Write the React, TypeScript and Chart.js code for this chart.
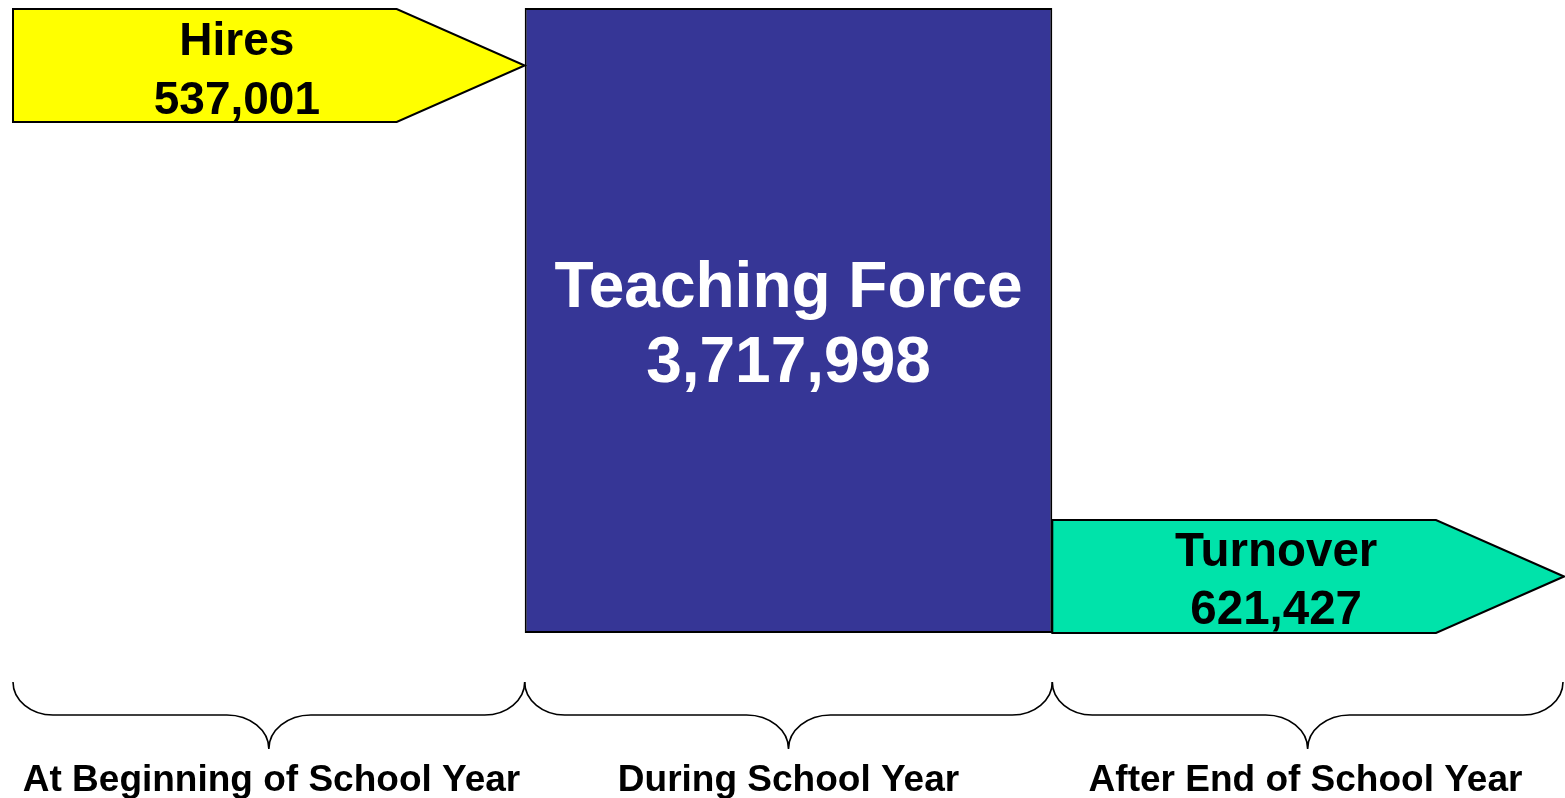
import React, { useEffect, useRef } from "react";
import { Chart, registerables } from "chart.js";

Chart.register(...registerables);

// ---------- data ----------
const categories = [
  "At Beginning of School Year",
  "During School Year",
  "After End of School Year",
];
const seriesNames = ["Hires", "Teaching Force", "Turnover"];
const hiresValue = 537001;
const teachingForceValue = 3717998;
const turnoverValue = 621427;

// ---------- styles ----------
const FONT = '"Liberation Sans", Arial, Helvetica, sans-serif';
const HIRES_COLOR = "#FFFF00";
const FORCE_COLOR = "#363696";
const TURNOVER_COLOR = "#00E3AA";
const ARROW_THICKNESS = 113;
const TIP_LENGTH = 128;
const OUTLINE = 2;

const fmt = (v: number) => v.toLocaleString("en-US");

function pentagon(ctx: CanvasRenderingContext2D, left: number, right: number, top: number, bottom: number, tip: number) {
  ctx.beginPath();
  ctx.moveTo(left, top);
  ctx.lineTo(right - tip, top);
  ctx.lineTo(right, (top + bottom) / 2);
  ctx.lineTo(right - tip, bottom);
  ctx.lineTo(left, bottom);
  ctx.closePath();
}

function twoLines(
  ctx: CanvasRenderingContext2D,
  lines: string[],
  cx: number,
  baselines: number[],
  size: number,
  color: string
) {
  ctx.save();
  ctx.font = `bold ${size}px ${FONT}`;
  ctx.fillStyle = color;
  ctx.textAlign = "center";
  ctx.textBaseline = "alphabetic";
  lines.forEach((l, i) => ctx.fillText(l, cx, baselines[i]));
  ctx.restore();
}

function brace(ctx: CanvasRenderingContext2D, x0: number, x1: number, yTop: number, yMid: number, yTip: number) {
  const cx = (x0 + x1) / 2;
  const endR = 40;
  const midR = 42;
  const k = 0.552;
  ctx.beginPath();
  ctx.moveTo(x0, yTop);
  ctx.bezierCurveTo(x0, yTop + (yMid - yTop) * k, x0 + endR * (1 - k), yMid, x0 + endR, yMid);
  ctx.lineTo(cx - midR, yMid);
  ctx.bezierCurveTo(cx - midR * (1 - k), yMid, cx, yTip - (yTip - yMid) * k, cx, yTip);
  ctx.bezierCurveTo(cx, yTip - (yTip - yMid) * k, cx + midR * (1 - k), yMid, cx + midR, yMid);
  ctx.lineTo(x1 - endR, yMid);
  ctx.bezierCurveTo(x1 - endR * (1 - k), yMid, x1, yTop + (yMid - yTop) * k, x1, yTop);
  ctx.stroke();
}

const diagramPlugin = {
  id: "flowDiagram",
  afterDatasetsDraw(chart: any) {
    const ctx: CanvasRenderingContext2D = chart.ctx;
    const h = chart.getDatasetMeta(0).data[0].getProps(["x", "y", "base", "width"], true);
    const f = chart.getDatasetMeta(1).data[1].getProps(["x", "y", "base", "width"], true);
    const t = chart.getDatasetMeta(2).data[2].getProps(["x", "y", "base", "width"], true);
    const fLeft = f.x - f.width / 2;
    const fRight = f.x + f.width / 2;
    const fTop = Math.min(f.y, f.base);
    const fBottom = Math.max(f.y, f.base);

    ctx.save();
    ctx.lineJoin = "miter";
    ctx.strokeStyle = "#000";
    ctx.lineWidth = OUTLINE;

    // Hires pointer
    const hLeft = h.x - h.width / 2;
    const hRight = Math.min(h.x + h.width / 2, fLeft);
    const hTop = Math.min(h.y, h.base) + 1;
    const hBottom = hTop + ARROW_THICKNESS;
    pentagon(ctx, hLeft, hRight, hTop, hBottom, TIP_LENGTH);
    ctx.fillStyle = HIRES_COLOR;
    ctx.fill();
    ctx.stroke();
    const hCx = (hLeft + hRight - TIP_LENGTH / 2) / 2;
    twoLines(ctx, [seriesNames[0], fmt(hiresValue)], hCx, [hTop + 46, hTop + 105], 46, "#000");

    // Turnover pointer
    const tLeft = Math.max(t.x - t.width / 2, fRight);
    const tRight = t.x + t.width / 2;
    const tBottom = Math.max(t.y, t.base);
    const tTop = tBottom - ARROW_THICKNESS;
    pentagon(ctx, tLeft, tRight, tTop, tBottom, TIP_LENGTH);
    ctx.fillStyle = TURNOVER_COLOR;
    ctx.fill();
    ctx.stroke();
    const tCx = (tLeft + tRight - TIP_LENGTH / 2) / 2;
    twoLines(ctx, [seriesNames[2], fmt(turnoverValue)], tCx, [tTop + 46, tTop + 104], 47.5, "#000");

    // Teaching force label
    const fMid = (fTop + fBottom) / 2;
    twoLines(ctx, [seriesNames[1], fmt(teachingForceValue)], f.x, [fMid - 13.5, fMid + 61.5], 64, "#FFF");

    // Braces under each period
    const base = chart.chartArea.bottom;
    ctx.lineWidth = 1.6;
    brace(ctx, hLeft, fLeft, base + 49, base + 82, base + 116);
    brace(ctx, fLeft, fRight, base + 49, base + 82, base + 116);
    brace(ctx, fRight, tRight - 1, base + 49, base + 82, base + 116);
    ctx.restore();
  },
};

export default function App() {
  const ref = useRef<HTMLCanvasElement>(null);

  useEffect(() => {
    const canvas = ref.current;
    if (!canvas) return;
    const chart = new Chart(canvas, {
      type: "bar",
      data: {
        labels: categories,
        datasets: [
          {
            label: seriesNames[0],
            data: [[teachingForceValue - hiresValue, teachingForceValue], null, null] as any,
            backgroundColor: "rgba(0,0,0,0)",
            borderWidth: 0,
            grouped: false,
            categoryPercentage: 1,
            barPercentage: 1,
          },
          {
            label: seriesNames[1],
            data: [null, teachingForceValue, null] as any,
            backgroundColor: FORCE_COLOR,
            borderColor: "#000",
            borderWidth: OUTLINE,
            borderSkipped: false,
            grouped: false,
            categoryPercentage: 1,
            barPercentage: 1.0205,
          },
          {
            label: seriesNames[2],
            data: [null, null, [0, turnoverValue]] as any,
            backgroundColor: "rgba(0,0,0,0)",
            borderWidth: 0,
            grouped: false,
            categoryPercentage: 1,
            barPercentage: 1,
          },
        ],
      },
      options: {
        responsive: false,
        animation: false,
        devicePixelRatio: 1,
        layout: { padding: { left: 13, top: 8, right: 1, bottom: 0 } },
        plugins: {
          legend: { display: false },
          tooltip: { enabled: false },
        },
        events: [],
        scales: {
          x: {
            type: "category",
            offset: true,
            grid: { display: false, drawTicks: false },
            border: { display: false },
            ticks: {
              color: "#000",
              font: { family: FONT, size: 37, weight: "bold", lineHeight: 1 },
              padding: 129.5,
              maxRotation: 0,
              minRotation: 0,
              autoSkip: false,
            },
            afterFit(scale: any) {
              scale.height = 165;
              scale.paddingLeft = 0;
              scale.paddingRight = 0;
            },
          },
          y: {
            display: false,
            min: 0,
            max: teachingForceValue,
          },
        },
      },
      plugins: [diagramPlugin],
    } as any);
    return () => chart.destroy();
  }, []);

  return (
    <div style={{ position: "absolute", left: 0, top: 0, width: 1565, height: 798, background: "#fff" }}>
      <canvas ref={ref} width={1565} height={798} style={{ display: "block", width: 1565, height: 798 }} />
    </div>
  );
}
